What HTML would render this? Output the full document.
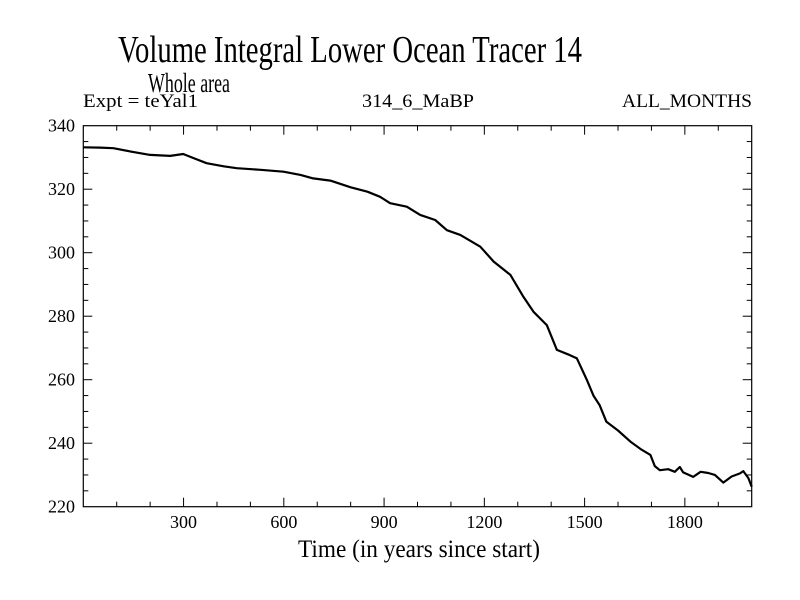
<!DOCTYPE html>
<html><head><meta charset="utf-8"><style>
html,body{margin:0;padding:0;background:#fff;}
svg{display:block;font-family:"Liberation Serif",serif;}
</style></head><body>
<svg id="chart" width="800" height="600">
<rect width="800" height="600" fill="#fff"/>
<text x="118" y="62" font-size="38" textLength="464" lengthAdjust="spacingAndGlyphs">Volume Integral Lower Ocean Tracer 14</text>
<text x="148" y="92" font-size="27" textLength="82" lengthAdjust="spacingAndGlyphs">Whole area</text>
<text x="83" y="107" font-size="19" textLength="115" lengthAdjust="spacingAndGlyphs">Expt = teYal1</text>
<text x="362" y="107" font-size="19" textLength="112" lengthAdjust="spacingAndGlyphs">314_6_MaBP</text>
<text x="622" y="107" font-size="19" textLength="130" lengthAdjust="spacingAndGlyphs">ALL_MONTHS</text>
<text x="298" y="557" font-size="25" textLength="242" lengthAdjust="spacingAndGlyphs">Time (in years since start)</text>
<g id="axes"></g>
<path id="series" fill="none" stroke="#000" stroke-width="2.2" stroke-linejoin="round"/>
</svg>
<script>
const years = [0,50,90,140,200,260,299,330,369,420,459,530,599,650,688,739,800,850,888,918,968,1008,1053,1088,1128,1188,1228,1278,1317,1347,1387,1417,1450,1477,1507,1527,1545,1565,1600,1637,1670,1697,1710,1725,1750,1770,1785,1795,1825,1847,1870,1890,1915,1940,1965,1975,1990,2000];
const values = [333.2,333.1,332.9,331.9,330.8,330.5,331.1,329.8,328.2,327.2,326.6,326.1,325.5,324.5,323.4,322.7,320.6,319.2,317.6,315.6,314.5,311.9,310.3,307.1,305.6,301.9,297.2,293,286.1,281.4,277.2,269.4,268,266.7,259.9,254.9,252,246.8,244,240.5,238,236.3,232.8,231.5,231.8,231,232.5,230.8,229.4,231,230.6,230,227.6,229.5,230.5,231.2,229,226.3];
const xTicks = [300,600,900,1200,1500,1800];
const yTicks = [220,240,260,280,300,320,340];
const L=83.3,R=751.7,T=125.7,B=506.7;
const X=v=>L+(v-0)/(2000-0)*(R-L);
const Y=v=>B-(v-220)/(340-220)*(B-T);
const ns="http://www.w3.org/2000/svg";
const axes=document.getElementById('axes');
function ln(x1,y1,x2,y2,name){const e=document.createElementNS(ns,'line');e.setAttribute('x1',x1);e.setAttribute('y1',y1);e.setAttribute('x2',x2);e.setAttribute('y2',y2);e.setAttribute('stroke','#000');e.setAttribute('stroke-width','1');


axes.appendChild(e);}
function tx(x,y,s,anchor,name){const e=document.createElementNS(ns,'text');e.setAttribute('x',x);e.setAttribute('y',y);e.setAttribute('font-size','18');e.setAttribute('text-anchor',anchor);e.textContent=s;


axes.appendChild(e);}
const fr=document.createElementNS(ns,'rect');fr.setAttribute('x',L);fr.setAttribute('y',T);fr.setAttribute('width',R-L);fr.setAttribute('height',B-T);fr.setAttribute('fill','none');fr.setAttribute('stroke','#000');fr.setAttribute('stroke-width','1.2');


axes.appendChild(fr);
for(let v=100;v<2000;v+=100){const major=v%300===0;const len=major?9:5;ln(X(v),B,X(v),B-len,'x-tick');ln(X(v),T,X(v),T+len,'x-tick-top');}
for(let v=225;v<340;v+=5){const major=v%20===0;const len=major?9:5;ln(L,Y(v),L+len,Y(v),'y-tick');ln(R,Y(v),R-len,Y(v),'y-tick-right');}
xTicks.forEach(v=>tx(X(v),528,String(v),'middle','x-tick-label'));
yTicks.forEach(v=>tx(75,Y(v)+6,String(v),'end','y-tick-label'));
document.getElementById('series').setAttribute('d',years.map((t,i)=>(i?'L':'M')+X(t).toFixed(1)+' '+Y(values[i]).toFixed(1)).join(' '));
</script>
</body></html>
